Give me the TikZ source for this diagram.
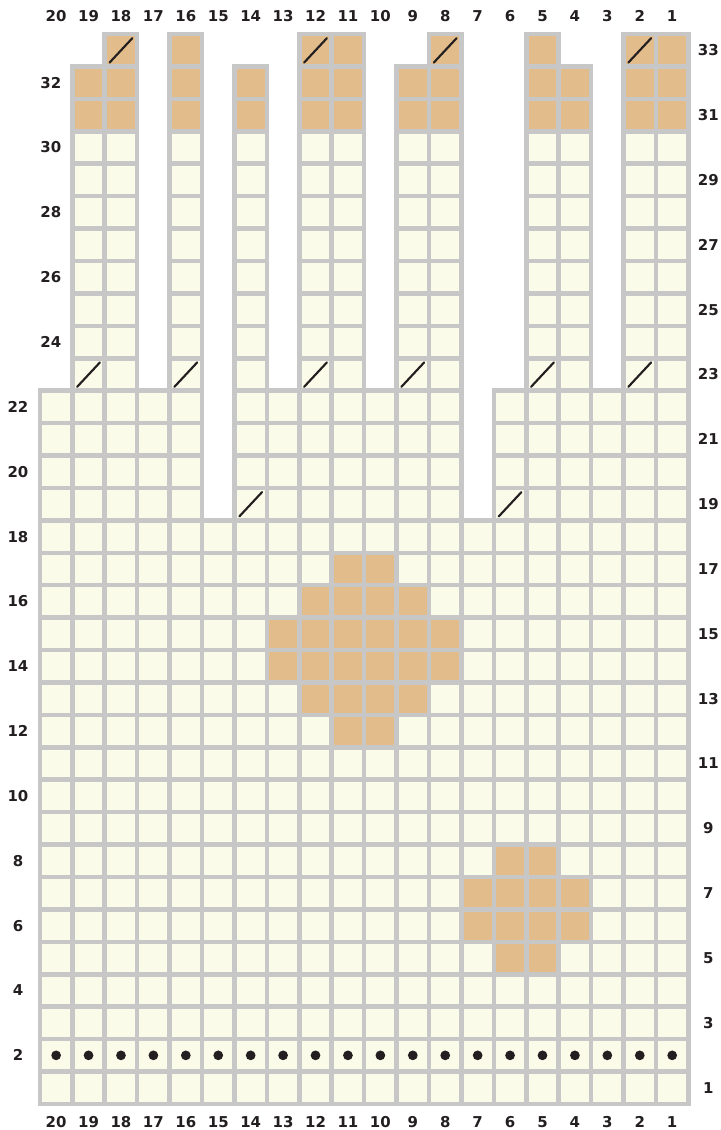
\documentclass[tikz,border=0pt]{standalone}
\usepackage{fontspec}
\setmainfont{DejaVu Sans}
\usepackage{xcolor}
\usetikzlibrary{calc,positioning}
\definecolor{cream}{RGB}{251,251,233}
\definecolor{tan}{RGB}{226,188,138}
\definecolor{rule}{RGB}{199,199,199}
\definecolor{ink}{RGB}{35,31,32}

\begin{document}
\begin{tikzpicture}[x=0.8cm, y=0.8cm, lbl/.style={inner sep=0pt, text=ink, font=\fontsize{10.5}{12}\selectfont\bfseries}]
\tikzstyle{box}=[fill=cream, draw=rule, line width=3.2pt]
\tikzstyle{cc}=[box, fill=tan]
\tikzstyle{dec}=[draw=ink, line width=1.5pt, line cap=round]
\useasboundingbox (-1.231,-0.802) rectangle (20.985,34.049);
\foreach \r in {1,...,18}{\foreach \c in {1,...,20}{\draw[box] ({20-\c},{\r-1}) rectangle ++(1,1);}}
\foreach \r in {19,...,22}{\foreach \c in {1,2,3,4,5,6,8,9,10,11,12,13,14,16,17,18,19,20}{\draw[box] ({20-\c},{\r-1}) rectangle ++(1,1);}}
\foreach \r in {23,...,30}{\foreach \c in {1,2,4,5,8,9,11,12,14,16,18,19}{\draw[box] ({20-\c},{\r-1}) rectangle ++(1,1);}}
\foreach \r in {31,32}{\foreach \c in {1,2,4,5,8,9,11,12,14,16,18,19}{\draw[cc] ({20-\c},{\r-1}) rectangle ++(1,1);}}
\foreach \c in {1,2,5,8,11,12,16,18}{\draw[cc] ({20-\c},32) rectangle ++(1,1);}
\foreach \c/\r in {11/17,10/17,12/16,11/16,10/16,9/16,13/15,12/15,11/15,10/15,9/15,8/15,13/14,12/14,11/14,10/14,9/14,8/14,12/13,11/13,10/13,9/13,11/12,10/12,6/8,5/8,7/7,6/7,5/7,4/7,7/6,6/6,5/6,4/6,6/5,5/5}{\draw[cc] ({20-\c},{\r-1}) rectangle ++(1,1);}
\foreach \c/\r in {18/33,12/33,8/33,2/33,19/23,16/23,12/23,9/23,5/23,2/23,14/19,6/19}{\draw[dec] ({20.15-\c},{\r-0.88}) -- ++(0.7,0.75);}
\foreach \c in {1,...,20}{\fill[ink] ({20.5-\c},1.5) circle (0.15);}
\foreach \c in {1,...,20}{
  \node[lbl] (t\c) at ({20.5-\c},33.555) {\c};
  \node[lbl] (b\c) at ({20.5-\c},-0.555) {\c};
}
\foreach \r in {2,4,...,22}{\node[lbl] (l\r) at (-0.677,{\r-0.5}) {\r};}
\foreach \r in {24,26,...,32}{\node[lbl] (l\r) at (0.338,{\r-0.5}) {\r};}
\foreach \r in {1,3,...,33}{\node[lbl] (r\r) at (20.615,{\r-0.5}) {\r};}
\end{tikzpicture}
\end{document}
